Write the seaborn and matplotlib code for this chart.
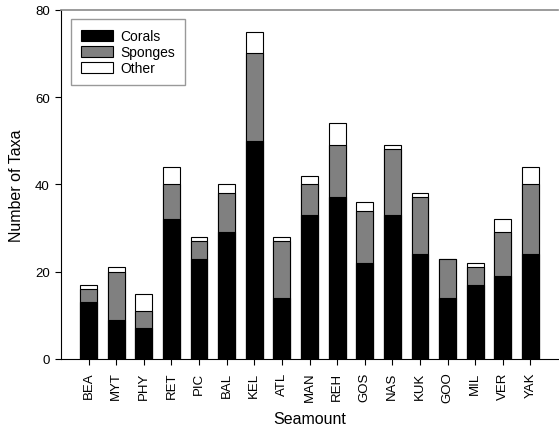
import matplotlib
matplotlib.use("Agg")
import matplotlib.pyplot as plt
from matplotlib.patches import Patch
import seaborn as sns
import numpy as np
import pandas as pd

# Seamount codes and taxa counts per group
seamounts = ["BEA", "MYT", "PHY", "RET", "PIC", "BAL", "KEL", "ATL", "MAN",
             "REH", "GOS", "NAS", "KUK", "GOO", "MIL", "VER", "YAK"]
corals = [13, 9, 7, 32, 23, 29, 50, 14, 33, 37, 22, 33, 24, 14, 17, 19, 24]
sponges = [3, 11, 4, 8, 4, 9, 20, 13, 7, 12, 12, 15, 13, 9, 4, 10, 16]
other = [1, 1, 4, 4, 1, 2, 5, 1, 2, 5, 2, 1, 1, 0, 1, 3, 4]

y_ticks = [0, 20, 40, 60, 80]

sns.set_style("ticks")
plt.rcParams["font.family"] = ["Liberation Sans", "DejaVu Sans"]
plt.rcParams.update({"text.color": "black", "axes.labelcolor": "black",
                     "xtick.color": "black", "ytick.color": "black"})

df = pd.DataFrame({"Seamount": seamounts, "Corals": corals,
                   "Sponges": sponges, "Other": other})
df["top_sponge"] = df["Corals"] + df["Sponges"]
df["top_other"] = df["top_sponge"] + df["Other"]

fig = plt.figure(figsize=(5.59, 4.35), dpi=100)
ax = fig.add_axes([61 / 559, 1 - 360 / 435, 497 / 559, 349.3 / 435])

bar_kw = dict(order=seamounts, width=0.61, saturation=1,
              edgecolor="black", linewidth=0.8, ax=ax, errorbar=None)
# stacked segments drawn back to front as cumulative totals
sns.barplot(data=df, x="Seamount", y="top_other", color="white", **bar_kw)
sns.barplot(data=df, x="Seamount", y="top_sponge", color="#808080", **bar_kw)
sns.barplot(data=df, x="Seamount", y="Corals", color="black", **bar_kw)

ax.set_xlim(-1.0, 17.0)
ax.set_ylim(0, 80)
ax.set_yticks(y_ticks)
ax.set_xlabel("Seamount", fontsize=11.5, labelpad=6)
ax.set_ylabel("Number of Taxa", fontsize=11.5, labelpad=8)
ax.tick_params(axis="x", labelrotation=90, labelsize=9.5, length=4,
               width=0.8, pad=5, color="black", labelcolor="black")
ax.tick_params(axis="y", labelsize=9.5, length=4, width=0.8, pad=4,
               color="black", labelcolor="black")

for side in ["left", "bottom"]:
    ax.spines[side].set_color("black")
    ax.spines[side].set_linewidth(0.8)
ax.spines["top"].set_visible(True)
ax.spines["top"].set_color("#8a8a8a")
ax.spines["top"].set_linewidth(1.2)
ax.spines["right"].set_visible(False)

handles = [Patch(facecolor="black", edgecolor="black", linewidth=0.8, label="Corals"),
           Patch(facecolor="#808080", edgecolor="black", linewidth=0.8, label="Sponges"),
           Patch(facecolor="white", edgecolor="black", linewidth=0.8, label="Other")]
leg = ax.legend(handles=handles, loc="upper left",
                bbox_to_anchor=(0.0195, 0.973), borderaxespad=0,
                fontsize=10, frameon=True, fancybox=False,
                handlelength=2.3, handleheight=0.8, handletextpad=0.55,
                labelspacing=0.15, borderpad=0.72)
leg.get_frame().set_edgecolor("#808080")
leg.get_frame().set_linewidth(1.0)
for t in leg.get_texts():
    t.set_color("black")

fig.savefig("out.png", dpi=100)
